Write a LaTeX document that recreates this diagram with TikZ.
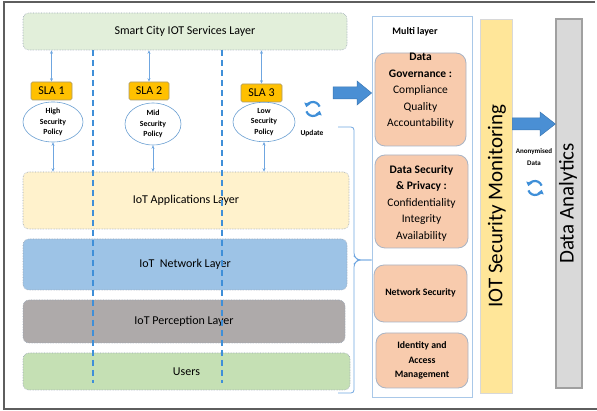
\documentclass[tikz,border=0pt]{standalone}
\usepackage{fontspec}
\setmainfont{Carlito}
\usetikzlibrary{arrows.meta,shapes.geometric}

\definecolor{svcgreen}{HTML}{E2EFDA}
\definecolor{appyellow}{HTML}{FFF2CC}
\definecolor{netblue}{HTML}{9DC3E6}
\definecolor{pergray}{HTML}{AEAAAA}
\definecolor{usrgreen}{HTML}{C5E0B4}
\definecolor{dotborder}{HTML}{9AA6B6}
\definecolor{slaorange}{HTML}{FFC000}
\definecolor{slaborder}{HTML}{A89A70}
\definecolor{policyblue}{HTML}{6A9FD2}
\definecolor{dashblue}{HTML}{3F8FD8}
\definecolor{linkblue}{HTML}{6FA6E0}
\definecolor{arrowfill}{HTML}{4A8FD4}
\definecolor{arrowline}{HTML}{3B78B4}
\definecolor{multiborder}{HTML}{A9C8E8}
\definecolor{peach}{HTML}{F8CBAD}
\definecolor{peachborder}{HTML}{A9B4C4}
\definecolor{monyellow}{HTML}{FFE699}
\definecolor{monborder}{HTML}{D8D8D8}
\definecolor{anagray}{HTML}{D9D9D9}
\definecolor{anaborder}{HTML}{A0A0A0}
\definecolor{frame}{HTML}{5E5E5E}

\tikzset{
  layer/.style={draw=dotborder, densely dotted, line width=0.6pt, rounded corners=6pt,
    inner sep=0pt, font=\fontsize{12}{14}\selectfont},
  slabox/.style={draw=slaborder, line width=0.6pt, fill=slaorange, rounded corners=1.5pt,
    inner sep=0pt, minimum height=18pt, font=\fontsize{12}{14}\selectfont},
  policy/.style={ellipse, draw=policyblue, line width=0.6pt, fill=white, inner sep=0pt,
    align=center, font=\fontsize{7.8}{10.8}\selectfont\bfseries},
  link/.style={draw=linkblue, line width=0.8pt, {Stealth[length=3.5pt,width=3pt]}-{Stealth[length=3.5pt,width=3pt]}},
  divider/.style={draw=dashblue, line width=1.6pt, dash pattern=on 6pt off 4pt},
  blockarrow/.style={fill=arrowfill, draw=arrowline, line width=0.5pt, line join=miter},
  peachbox/.style={draw=peachborder, line width=0.8pt, fill=peach, rounded corners=10pt, inner sep=0pt},
  peachtext/.style={align=center, inner sep=0pt},
  refresharc/.style={draw=dashblue, line width=2.2pt, -{Triangle[length=4pt,width=6pt]}},
  smalllabel/.style={inner sep=0pt, font=\fontsize{7.5}{11}\selectfont\bfseries, align=center},
  bigtext/.style={inner sep=0pt, font=\fontsize{21}{24}\selectfont, rotate=90},
  refresh/.pic={
    \begin{scope}[yscale=-1]
      \draw[refresharc] (20:7) arc[start angle=20, end angle=165, radius=7];
      \draw[refresharc] (200:7) arc[start angle=200, end angle=345, radius=7];
    \end{scope}
  }
}

\begin{document}
\begin{tikzpicture}[x=1pt, y=-1pt]
\useasboundingbox (0,0) rectangle (597,411);

% outer frame (open on the right)
\coordinate (ftr) at (595,2);
\coordinate (ftl) at (4,2);
\coordinate (fbl) at (4,409);
\coordinate (fbr) at (597,409);
\draw[frame, line width=1.4pt] (ftr) -- (ftl) -- (fbl) -- (fbr);

% horizontal layers
\node[layer, fill=svcgreen, minimum width=324pt, minimum height=37pt] (services) at (185,31.5) {Smart City IOT Services Layer};
\node[layer, fill=appyellow, minimum width=326pt, minimum height=57pt] (apps) at (186,200.5) {IoT Applications Layer};
\node[layer, fill=netblue, minimum width=324pt, minimum height=51pt] (network) at (185,264.5) {IoT\ \ Network Layer};
\node[layer, fill=pergray, minimum width=322pt, minimum height=43pt] (perception) at (184,321.5) {IoT Perception Layer};
\node[layer, fill=usrgreen, minimum width=327pt, minimum height=37pt] (users) at (186.5,371.5) {Users};

% service level agreements
\node[slabox, minimum width=41pt] (sla1) at (51.5,91) {SLA 1};
\node[slabox, minimum width=40pt] (sla2) at (149,91) {SLA 2};
\node[slabox, minimum width=41pt] (sla3) at (261.5,93) {SLA 3};

% security policies
\node[policy, minimum width=60pt, minimum height=40pt] (pol1) at (53,122) {High\\Security\\Policy};
\node[policy, minimum width=56pt, minimum height=42pt] (pol2) at (153,124) {Mid\\Security\\Policy};
\node[policy, minimum width=62pt, minimum height=36pt] (pol3) at (264,122) {Low\\Security\\Policy};

% links between services, agreements, policies and applications
\draw[link] (services.south -| sla1.north) -- (sla1.north);
\draw[link] (services.south -| sla2.north) -- (sla2.north);
\draw[link] (services.south -| sla3.north) -- (sla3.north);
\draw[link] (pol1.south) -- (pol1.south |- apps.north);
\draw[link] (pol2.south) -- (pol2.south |- apps.north);
\draw[link] (pol3.south) -- (pol3.south |- apps.north);

% vertical partitions
\coordinate (d1t) at (93,50);
\coordinate (d1b) at (93,383);
\coordinate (d2t) at (222,50);
\coordinate (d2b) at (222,383);
\draw[divider] (d1t) -- (d1b);
\draw[divider] (d2t) -- (d2b);

% update cycle
\pic at (313,109) {refresh};
\node[smalllabel] (update) at (312,133) {Update};

% multi layer panel
\node[draw=multiborder, line width=0.8pt, fill=white, minimum width=100pt, minimum height=381pt, inner sep=0pt] (multi) at (422,206.5) {};
\node[inner sep=0pt, font=\fontsize{10}{12}\selectfont\bfseries] (multititle) at (415,32) {Multi layer};

\node[peachbox, minimum width=91pt, minimum height=93pt] (gov) at (420.5,99.5) {};
\node[peachtext, font=\fontsize{11.5}{16.5}\selectfont] (govtext) at (420.5,91) {\textbf{Data}\\\textbf{Governance :}\\Compliance\\Quality\\Accountability};

\node[peachbox, minimum width=93pt, minimum height=93pt] (sec) at (421.5,201.5) {};
\node[peachtext, font=\fontsize{11.5}{16.5}\selectfont] (sectext) at (421.5,203) {\textbf{Data Security}\\\textbf{\& Privacy :}\\Confidentiality\\Integrity\\Availability};

\node[peachbox, minimum width=93pt, minimum height=57pt] (netsec) at (420.5,293.5) {};
\node[peachtext, font=\fontsize{9.8}{11}\selectfont\bfseries] (netsectext) at (420.5,293) {Network Security};

\node[peachbox, minimum width=92pt, minimum height=55pt] (iam) at (422,360.5) {};
\node[peachtext, font=\fontsize{9.8}{14.5}\selectfont\bfseries] (iamtext) at (422,360.5) {Identity and\\Access\\Management};

% brace gathering the layers
\coordinate (bt) at (338,127);
\coordinate (bb) at (338,393);
\coordinate (btip) at (multi.west |- 0,260);
\draw[linkblue, line width=0.8pt, rounded corners=3pt] (bt) -- (354,127) -- (354,256) -- (358,260) -- (btip);
\draw[linkblue, line width=0.8pt, rounded corners=3pt] (bb) -- (354,393) -- (354,264) -- (358,260) -- (btip);

% arrow into the multi layer panel
\draw[blockarrow] (333,87) -- (357,87) -- (357,81) -- (multi.west |- 0,93) -- (357,105) -- (357,99) -- (333,99) -- cycle;

% security monitoring bar
\node[draw=monborder, line width=0.8pt, fill=monyellow, minimum width=32pt, minimum height=374pt, inner sep=0pt] (monitor) at (496,206) {};
\node[bigtext] (montext) at (497,206) {IOT Security Monitoring};

% data analytics bar
\node[draw=anaborder, line width=1.2pt, fill=anagray, minimum width=26pt, minimum height=369pt, inner sep=0pt] (analytics) at (569,203.5) {};
\node[bigtext] (anatext) at (568,203.5) {Data Analytics};

% anonymised data flow
\draw[blockarrow] (monitor.east |- 0,118) -- (540,118) -- (540,112) -- (analytics.west |- 0,124) -- (540,136) -- (540,130) -- (monitor.east |- 0,130) -- cycle;
\node[smalllabel, font=\fontsize{7}{12}\selectfont\bfseries] (anon) at (534,157) {Anonymised\\Data};
\pic at (535,188) {refresh};

\end{tikzpicture}
\end{document}
